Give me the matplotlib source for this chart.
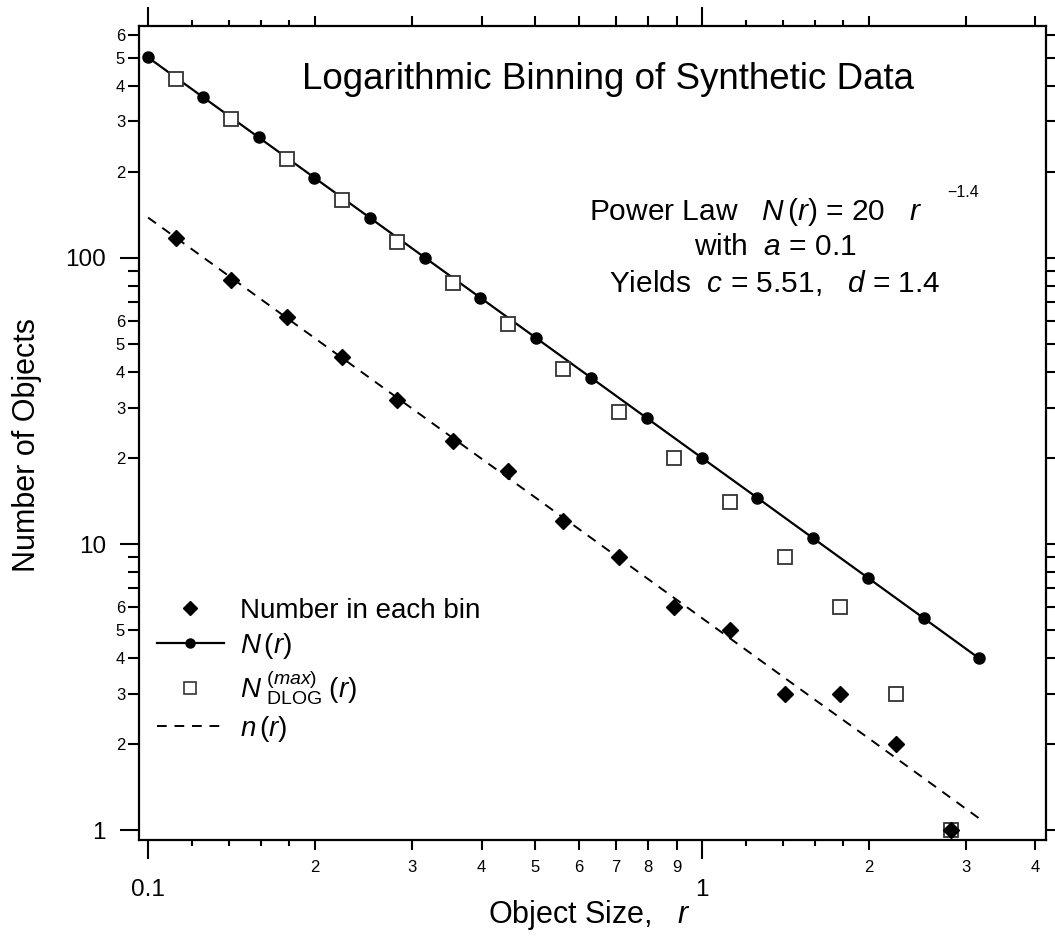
import matplotlib
matplotlib.use("Agg")
import matplotlib.pyplot as plt
from matplotlib.lines import Line2D

plt.rcParams['font.family'] = ['Liberation Sans', 'DejaVu Sans']
plt.rcParams['mathtext.fontset'] = 'custom'
plt.rcParams['mathtext.rm'] = 'Liberation Sans'
plt.rcParams['mathtext.it'] = 'Liberation Sans:italic'
plt.rcParams['mathtext.bf'] = 'Liberation Sans:bold'

# ---- data ----
r_grid = [0.1, 0.1259, 0.1585, 0.1995, 0.2512, 0.3162, 0.3981, 0.5012,
          0.6310, 0.7943, 1.0, 1.259, 1.585, 1.995, 2.512, 3.162]
N_r = [502.4, 363.9, 263.7, 191.0, 138.4, 100.2, 72.6, 52.6,
       38.1, 27.6, 20.0, 14.5, 10.5, 7.61, 5.51, 3.99]
n_r = [138.4, 100.3, 72.6, 52.6, 38.1, 27.6, 20.0, 14.5,
       10.5, 7.61, 5.51, 3.99, 2.89, 2.10, 1.52, 1.10]
r_bin = [0.1122, 0.1413, 0.1778, 0.2239, 0.2818, 0.3548, 0.4467, 0.5623,
         0.7079, 0.8913, 1.122, 1.413, 1.778, 2.239, 2.818]
bin_count = [117, 84, 62, 45, 32, 23, 18, 12, 9, 6, 5, 3, 3, 2, 1]
N_dlog = [422, 305, 221, 159, 114, 82, 59, 41, 29, 20, 14, 9, 6, 3, 1]

x_major = [0.1, 1]
x_major_labels = ['0.1', '1']
x_minor = [0.2, 0.3, 0.4, 0.5, 0.6, 0.7, 0.8, 0.9, 2, 3, 4]
x_minor_labels = ['2', '3', '4', '5', '6', '7', '8', '9', '2', '3', '4']
x_small = [0.12, 0.14, 0.16, 0.18, 1.2, 1.4, 1.6, 1.8]
y_major = [1, 10, 100]
y_major_labels = ['1', '10', '100']
y_minor = [2, 3, 4, 5, 6, 7, 8, 9, 20, 30, 40, 50, 60, 70, 80, 90,
           200, 300, 400, 500, 600]
y_minor_labels = ['2', '3', '4', '5', '6', '', '', '', '2', '3', '4', '5', '6', '', '', '',
                  '2', '3', '4', '5', '6']
y_all = [1, 2, 3, 4, 5, 6, 7, 8, 9, 10, 20, 30, 40, 50, 60, 70, 80, 90,
         100, 200, 300, 400, 500, 600]

xlim = (0.0963, 4.18)
ylim = (0.923, 647)

W, H = 1055, 944
fig = plt.figure(figsize=(W / 100, H / 100), dpi=100)
rect = [139 / W, 1 - 840 / H, 907 / W, 814 / H]
ax = fig.add_axes(rect)
ax.set_xscale('log')
ax.set_yscale('log')

# data
ax.plot(r_grid, n_r, color='black', lw=1.4, dashes=(5, 4), zorder=2)
ax.plot(r_grid, N_r, '-', color='black', lw=1.6, marker='o', ms=8, zorder=3)
ax.plot(r_bin, N_dlog, 's', ms=9.5, mfc='white', mec='#333333', mew=1.3, ls='none', zorder=4)
ax.plot(r_bin, bin_count, 'D', ms=8.3, color='black', ls='none', zorder=5)

ax.set_xlim(*xlim)
ax.set_ylim(*ylim)

for s in ax.spines.values():
    s.set_linewidth(1.6)

ax.set_xticks(x_major, x_major_labels)
ax.set_xticks(x_minor, x_minor_labels, minor=True)
ax.set_yticks(y_major, y_major_labels)
ax.set_yticks(y_minor, y_minor_labels, minor=True)

ax.tick_params(axis='x', which='major', direction='out', top=True, bottom=True,
               length=14, width=1.5, labelsize=17.5, pad=14)
ax.tick_params(axis='x', which='minor', direction='out', top=True, bottom=True,
               length=7.2, width=1.5, labelsize=12, pad=7)
ax.tick_params(axis='y', which='major', direction='out', left=True, right=False,
               length=13.7, width=1.5, labelsize=17.5, pad=10)
ax.tick_params(axis='y', which='minor', direction='out', left=True, right=False,
               length=8, width=1.5, labelsize=12, pad=2)

# overlay axes for the extra small x ticks and right-side ticks
ax2 = fig.add_axes(rect, frameon=False)
ax2.set_xscale('log')
ax2.set_yscale('log')
ax2.set_xlim(*xlim)
ax2.set_ylim(*ylim)
ax2.set_xticks(x_small, [''] * len(x_small))
ax2.set_xticks([], minor=True)
ax2.set_yticks(y_all, [''] * len(y_all))
ax2.set_yticks([], minor=True)
ax2.tick_params(axis='x', which='major', direction='out', top=True, bottom=True,
                length=4.5, width=1.5, labeltop=False, labelbottom=False)
ax2.tick_params(axis='y', which='major', direction='out', left=False, right=True,
                length=7.2, width=1.5, labelleft=False, labelright=False)
ax2.patch.set_visible(False)

# texts
ax.text(0.517, 0.934, 'Logarithmic Binning of Synthetic Data', transform=ax.transAxes,
        ha='center', va='center', fontsize=26.5)
t1 = ax.text(0.680, 0.772, r'Power Law   $N\,(r)$ = 20   $r$', transform=ax.transAxes,
             ha='center', va='center', fontsize=21.5)
ax.annotate('\u22121.4', xy=(1.0, 0.5), xycoords=t1, xytext=(18, 14),
            textcoords='offset points', ha='left', va='center', fontsize=11.5)
ax.text(0.701, 0.7285, r'with  $a$ = 0.1', transform=ax.transAxes,
        ha='center', va='center', fontsize=21.5)
ax.text(0.701, 0.684, r'Yields  $c$ = 5.51,   $d$ = 1.4', transform=ax.transAxes,
        ha='center', va='center', fontsize=21.5)

fig.text(27 / W, 1 - 445 / H, 'Number of Objects', rotation=90, ha='center', va='center',
         fontsize=22)
fig.text(590 / W, 1 - 915 / H, r'Object Size,   $r$', ha='center', va='center', fontsize=22)

handles = [
    Line2D([], [], ls='none', marker='D', ms=7, color='black'),
    Line2D([], [], ls='-', lw=1.6, color='black', marker='o', ms=6.5),
    Line2D([], [], ls='none', marker='s', ms=9, mfc='white', mec='#333333', mew=1.2),
    Line2D([], [], lw=1.4, color='black', dashes=(5, 4)),
]
labels = ['Number in each bin', r'$N\,(r)$',
          r'$N\;{}_{\mathrm{DLOG}}^{(max)}\;(r)$', r'$n\,(r)$']
ax.legend(handles, labels, loc='upper left',
          bbox_to_anchor=((157 - 139) / 907, (840 - 598) / 814),
          frameon=False, fontsize=20, handlelength=2.4, handletextpad=0.6,
          labelspacing=0.25, borderpad=0, borderaxespad=0)

fig.savefig('out.png', dpi=100)
